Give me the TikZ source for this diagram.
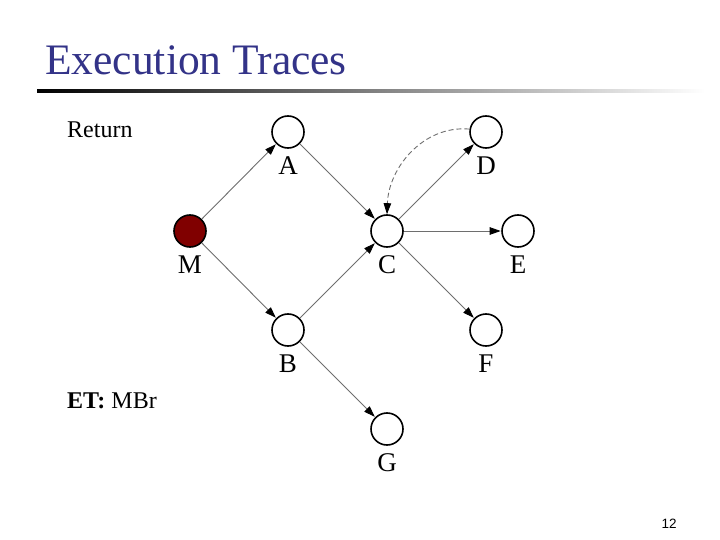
\documentclass[tikz,border=0pt]{standalone}
\usepackage{fontspec}
\setmainfont{Liberation Serif}
\newfontfamily\pagenumfont{Liberation Sans}
\usetikzlibrary{arrows.meta}
\definecolor{titleblue}{RGB}{51,51,136}
\definecolor{mred}{RGB}{128,0,0}
\definecolor{edgegray}{RGB}{110,110,110}
\begin{document}
\begin{tikzpicture}[x=1pt,y=-1pt,
  vert/.style={circle,draw=black,line width=1.6pt,fill=white,minimum size=32pt,inner sep=0pt},
  vlabel/.style={font=\fontsize{27}{27}\selectfont,inner sep=0pt},
  edge/.style={draw=edgegray,line width=0.9pt,-{Triangle[length=11pt,width=7.5pt,color=black]},shorten >=0.5pt},
  txt/.style={inner sep=0pt,anchor=base west,font=\fontsize{24}{24}\selectfont}]
\useasboundingbox (0,0) rectangle (720,540);
\fill[white] (0,0) rectangle (720,540);
\node[anchor=base west,inner sep=0pt,text=titleblue,font=\fontsize{43.5}{44}\selectfont] (title) at (45,75) {Execution Traces};
\shade[left color=black,right color=white] (37,89.5) rectangle (705,92.5);
\node[txt] (ret) at (67,138) {Return};
\node[txt] (et) at (67,408) {\textbf{ET:} MBr};
\node[anchor=base,inner sep=0pt,font=\pagenumfont\fontsize{13.5}{14}\selectfont] (pg) at (669,528) {12};
\node[vert,fill=mred] (M) at (190,231) {};
\node[vert] (A) at (288,132) {};
\node[vert] (B) at (288,330) {};
\node[vert] (C) at (387,231) {};
\node[vert] (D) at (486,132) {};
\node[vert] (E) at (518,231) {};
\node[vert] (F) at (486,330) {};
\node[vert] (G) at (387,429) {};
\foreach \n in {M,A,B,C,D,E,F,G}{
  \node[vlabel,anchor=north] (l\n) at ([yshift=-8pt]\n.south) {\n};
}
\draw[edge] (M) -- (A);
\draw[edge] (M) -- (B);
\draw[edge] (A) -- (C);
\draw[edge] (B) -- (C);
\draw[edge] (C) -- (D);
\draw[edge] (C) -- (E);
\draw[edge] (C) -- (F);
\draw[edge] (B) -- (G);
\draw[draw=edgegray,line width=0.9pt,dash pattern=on 5pt off 3pt,-{Triangle[length=11pt,width=7.5pt,color=black]}] (D.170) to[out=175,in=88] (C.north);
\end{tikzpicture}
\end{document}
